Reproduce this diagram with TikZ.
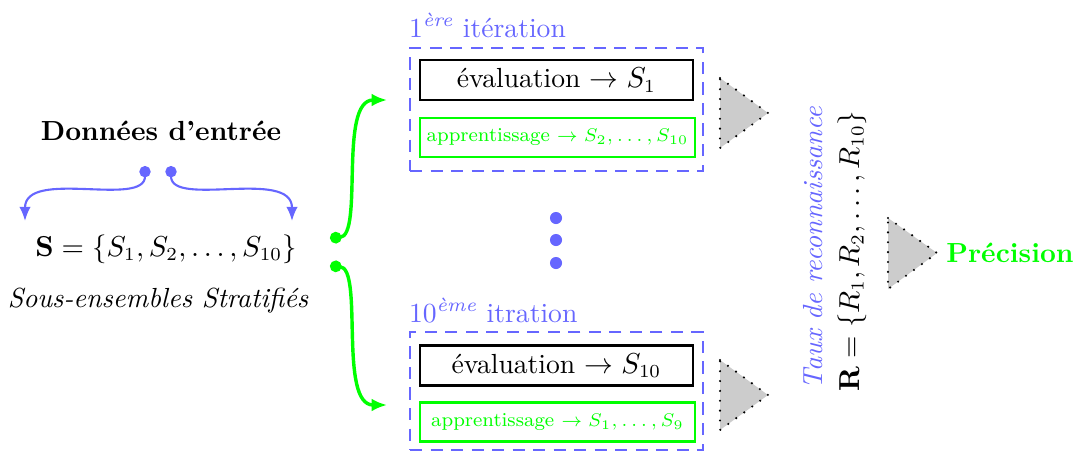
\documentclass[tikz,border=0pt]{standalone}
\usetikzlibrary{arrows.meta}
\definecolor{iterblue}{RGB}{102,102,255}
\definecolor{learngreen}{RGB}{0,255,0}
\definecolor{trigray}{RGB}{204,204,204}
\begin{document}
\begin{tikzpicture}[x=0.38pt,y=-0.38pt,
  every node/.style={inner sep=0pt, outer sep=0pt},
  maintext/.style={font=\fontsize{10.5}{12}\selectfont},
  iterbox/.style={draw=iterblue, line width=0.9pt, dash pattern=on 4.6pt off 3.2pt,
    minimum width={293*0.38pt}, minimum height={#1*0.38pt}},
  evalbox/.style={draw=black, line width=0.9pt, minimum width={273*0.38pt},
    minimum height={40*0.38pt}, font=\fontsize{10.5}{12}\selectfont},
  learnbox/.style={draw=learngreen, text=learngreen, line width=0.9pt,
    minimum width={275*0.38pt}, minimum height={39*0.38pt},
    font=\fontsize{7.5}{9}\selectfont},
  iterlabel/.style={anchor=base west, text=iterblue, font=\fontsize{10.5}{12}\selectfont},
  bluelink/.style={draw=iterblue, line width=0.8pt,
    {Circle[length=4.3pt]}-{Latex[length=5.4pt,width=4.4pt]}},
  greenlink/.style={draw=learngreen, line width=1.3pt,
    {Circle[length=4.4pt]}-{Latex[length=5.8pt,width=4.8pt]}},
  tri/.style={fill=trigray, draw=black, line width=0.9pt, line cap=round,
    dash pattern=on 0pt off 3.75pt},
  vdot/.style={circle, fill=iterblue, minimum size=4.6pt}
]
\useasboundingbox (0,0) rectangle (1080,454);

% input data and the set of strata
\node[maintext, font=\fontsize{10.5}{12}\selectfont\bfseries] (data) at (161,131) {Données d’entrée};
\node[maintext] (set) at (166,249) {$\mathbf{S}=\{S_1,S_2,\ldots,S_{10}\}$};
\node[maintext] (strata) at (158,301) {\itshape Sous-ensembles Stratifiés};

\coordinate (dl) at (145,166);
\coordinate (dr) at (171,166);
\coordinate (tl) at (25,221);
\coordinate (tr) at (292,221);
\draw[bluelink] (dl) .. controls (145,208) and (25,168) .. (tl);
\draw[bluelink] (dr) .. controls (171,208) and (292,168) .. (tr);

% first iteration
\node[iterbox=123] (it1) at (556.5,109.5) {};
\node[iterlabel] (it1lab) at (409,37) {1\textsuperscript{\itshape ère} itération};
\node[evalbox] (eval1) at (556.5,80) {évaluation $\rightarrow S_1$};
\node[learnbox] (learn1) at (557.5,137.5) {apprentissage $\rightarrow S_2,\ldots,S_{10}$};

% last iteration
\node[iterbox=118] (it10) at (556.5,391) {};
\node[iterlabel] (it10lab) at (409,322) {10\textsuperscript{\itshape ème} itration};
\node[evalbox] (eval10) at (556.5,365.5) {évaluation $\rightarrow S_{10}$};
\node[learnbox] (learn10) at (557.5,422) {apprentissage $\rightarrow S_1,\ldots,S_9$};

% vertical ellipsis between the iterations
\node[vdot] (v1) at (556,218) {};
\node[vdot] (v2) at (556,240) {};
\node[vdot] (v3) at (556,263) {};

% links from the set to the iterations
\coordinate (g1) at (330,238);
\coordinate (g2) at (330,266);
\coordinate (e1) at (387,100);
\coordinate (e2) at (387,405);
\draw[greenlink] (g1) .. controls (364,236) and (338,100) .. (e1);
\draw[greenlink] (g2) .. controls (364,268) and (338,405) .. (e2);

% output triangles
\draw[tri] (720,78) -- (768,113) -- (720,148) -- cycle;
\draw[tri] (720,360) -- (768,395) -- (720,430) -- cycle;
\draw[tri] (888,218) -- (937,253) -- (888,289) -- cycle;

% recognition rates
\node[rotate=90, text=iterblue, font=\fontsize{10.5}{12}\selectfont\itshape] (taux) at (813,248) {Taux de reconnaissance};
\node[rotate=90, maintext] (rates) at (852,251) {$\mathbf{R}=\{R_1,R_2,\ldots,R_{10}\}$};

\node[text=learngreen, font=\fontsize{10.5}{12}\selectfont\bfseries] (prec) at (1010,253) {Précision};
\end{tikzpicture}
\end{document}
